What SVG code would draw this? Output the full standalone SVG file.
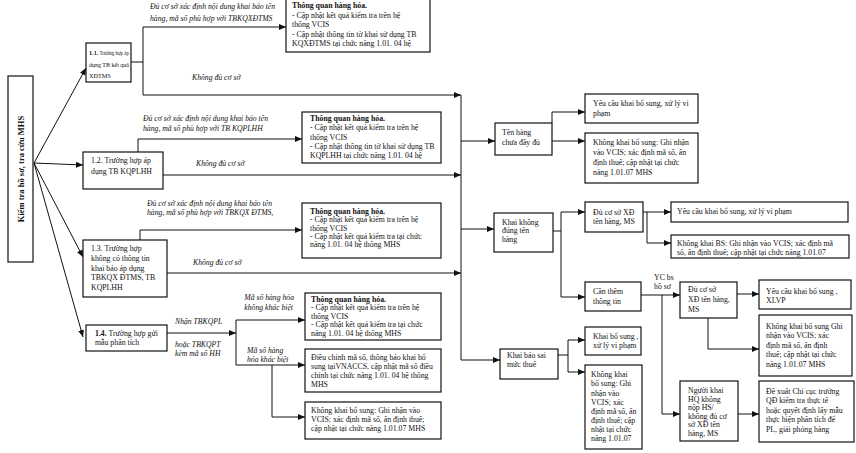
<svg xmlns="http://www.w3.org/2000/svg" width="856" height="453" viewBox="0 0 856 453">
<defs>
<marker id="ah" markerUnits="userSpaceOnUse" markerWidth="8" markerHeight="6" refX="7" refY="3" orient="auto"><path d="M0,0 L7,3 L0,6 z" fill="#111"/></marker>
</defs>
<style>
.b{fill:#fff;stroke:#111;stroke-width:1.2}
.t{font-family:"Liberation Serif","Times New Roman",serif;font-size:7.8px;fill:#111}
.i{font-family:"Liberation Serif","Times New Roman",serif;font-size:7.7px;font-style:italic;fill:#111}
.s{font-size:6.2px}
.h{font-weight:bold}
.c{fill:none;stroke:#111;stroke-width:1}
.a{marker-end:url(#ah)}
</style>
<rect width="856" height="453" fill="#fff"/>

<g id="connectors">
<path class="c a" d="M34,163 L86,68"/>
<path class="c a" d="M34,163 L83,165"/>
<path class="c a" d="M34,163 L83,257"/>
<path class="c a" d="M34,163 L83,337"/>
<path class="c" d="M131,62 H143 M143,27 V95"/>
<path class="c a" d="M143,27 H286"/>
<path class="c a" d="M143,95 H461"/>
<path class="c a" d="M138,152 V139 H302"/>
<path class="c a" d="M163,175 H461"/>
<path class="c a" d="M140,240 V230 H302"/>
<path class="c a" d="M167,273 H461"/>
<path class="c a" d="M167,333 H236"/>
<path class="c" d="M236,320 V365"/>
<path class="c a" d="M236,320 H305"/>
<path class="c a" d="M236,365 H305"/>
<path class="c a" d="M272,365 V417 H305"/>
<path class="c" d="M461,95 V360"/>
<path class="c a" d="M461,141 H495"/>
<path class="c a" d="M461,229 H494"/>
<path class="c a" d="M461,360 H500"/>
<path class="c a" d="M552,123 V112 H585"/>
<path class="c a" d="M552,141 H585"/>
<path class="c" d="M553,231 H561 M561,212 V297"/>
<path class="c a" d="M561,212 H585"/>
<path class="c a" d="M561,297 H585"/>
<path class="c a" d="M643,212 H671"/>
<path class="c a" d="M647,212 V243 H671"/>
<path class="c a" d="M641,295 H680"/>
<path class="c a" d="M662,295 V414 H680"/>
<path class="c a" d="M737,294 H759"/>
<path class="c a" d="M708,318 V349 H759"/>
<path class="c a" d="M738,414 H759"/>
<path class="c" d="M558,355 H568 M568,340 V372"/>
<path class="c a" d="M568,340 H585"/>
<path class="c a" d="M568,372 H585"/>
</g>

<g id="labels">
<text class="i"><tspan x="150" y="9">Đủ cơ sở xác định nội dung khai báo tên</tspan><tspan x="150" y="20.5">hàng, mã số phù hợp với TBKQXĐTMS</tspan></text>
<text class="i" x="192" y="80">Không đủ cơ sở</text>
<text class="i"><tspan x="143" y="121">Đủ cơ sở xác định nội dung khai báo tên</tspan><tspan x="143" y="130.5">hàng, mã số phù hợp với TB KQPLHH</tspan></text>
<text class="i" x="196" y="166">Không đủ cơ sở</text>
<text class="i"><tspan x="147" y="205.5">Đủ cơ sở xác định nội dung khai báo tên</tspan><tspan x="147" y="215">hàng, mã số phù hợp với TBKQX ĐTMS,</tspan></text>
<text class="i" x="193" y="265">Không đủ cơ sở</text>
<text class="i"><tspan x="175" y="323.5">Nhận TBKQPL</tspan><tspan x="175" y="347">hoặc  TBKQPT</tspan><tspan x="175" y="355.5">kèm mã số HH</tspan></text>
<text class="i" text-anchor="end"><tspan x="294" y="299.5">Mã số hàng hóa</tspan><tspan x="293" y="309.5">không khác biệt</tspan></text>
<text class="i"><tspan x="247" y="352.5">Mã  số  hàng</tspan><tspan x="247" y="361.5">hóa khác biệt</tspan></text>
<text class="t"><tspan x="654" y="280">YC bs</tspan><tspan x="654" y="289">hồ sơ</tspan></text>
</g>

<g id="n-root"><rect class="b" x="8" y="76" width="25" height="186"/><text class="t h" style="font-size:8.5px" text-anchor="middle" transform="translate(24,169) rotate(-90)">Kiểm tra hồ sơ, tra cứu MHS</text></g>

<g id="n-1-1"><rect class="b" x="86" y="43" width="45" height="39"/>
<text class="t s h" x="89" y="55">1.1.</text>
<text class="t s" x="99.5" y="55" textLength="29.5" lengthAdjust="spacingAndGlyphs">Trường hợp áp</text>
<text class="t s" x="89" y="66.5" textLength="40" lengthAdjust="spacingAndGlyphs">dụng TB kết quả</text>
<text class="t s" x="89" y="78">XĐTMS</text></g>

<g id="n-1-2"><rect class="b" x="83" y="152" width="80" height="37"/><text class="t"><tspan x="91" y="162.5">1.2. Trường hợp áp</tspan><tspan x="91" y="173.5">dụng  TB KQPLHH</tspan></text></g>

<g id="n-1-3"><rect class="b" x="83" y="240" width="84" height="57"/><text class="t"><tspan x="91" y="251">1.3. Trường hợp</tspan><tspan x="91" y="261">không có thông tin</tspan><tspan x="91" y="270.5">khai báo áp dụng</tspan><tspan x="91" y="280">TBKQX ĐTMS, TB</tspan><tspan x="91" y="289.5">KQPLHH</tspan></text></g>

<g id="n-1-4"><rect class="b" x="86" y="325" width="81" height="26"/><text class="t"><tspan x="95" y="336"><tspan class="h">1.4.</tspan> Trường hợp gửi</tspan><tspan x="95" y="345">mẫu phân tích</tspan></text></g>

<g id="n-tq1"><rect class="b" x="286" y="-2" width="144" height="54"/><text class="t"><tspan x="292" y="8" class="h">Thông quan hàng hóa.</tspan><tspan x="292" y="17.5">- Cập nhật kết quả kiểm tra trên hệ</tspan><tspan x="292" y="27">thống VCIS</tspan><tspan x="292" y="36.5">- Cập nhật thông tin tờ khai sử dụng TB</tspan><tspan x="292" y="46">KQXĐTMS tại chức năng 1.01. 04 hệ</tspan></text></g>

<g id="n-tq2"><rect class="b" x="302" y="112" width="139" height="51"/><text class="t"><tspan x="310" y="120.5" class="h">Thông quan hàng hóa.</tspan><tspan x="310" y="130">- Cập nhật kết quả kiểm tra trên hệ</tspan><tspan x="310" y="139.5">thống VCIS</tspan><tspan x="310" y="149">- Cập nhật thông tin tờ khai sử dụng TB</tspan><tspan x="310" y="158">KQPLHH tại chức năng 1.01. 04 hệ</tspan></text></g>

<g id="n-tq3"><rect class="b" x="302" y="203" width="139" height="55"/><text class="t"><tspan x="310" y="214" class="h">Thông quan hàng hóa.</tspan><tspan x="310" y="222.3">- Cập nhật kết quả kiểm tra trên hệ</tspan><tspan x="310" y="230.6">thống VCIS</tspan><tspan x="310" y="238.9">- Cập nhật kết quả kiểm tra tại chức</tspan><tspan x="310" y="247.2">năng 1.01. 04 hệ thống MHS</tspan></text></g>

<g id="n-tq4"><rect class="b" x="305" y="293" width="136" height="47"/><text class="t"><tspan x="311" y="301.5" class="h">Thông quan hàng hóa.</tspan><tspan x="311" y="310">- Cập nhật kết quả kiểm tra trên hệ</tspan><tspan x="311" y="318.5">thống VCIS</tspan><tspan x="311" y="327">-  Cập nhật kết quả kiểm tra tại chức</tspan><tspan x="311" y="335.5">năng 1.01. 04 hệ thống MHS</tspan></text></g>

<g id="n-dieuchinh"><rect class="b" x="305" y="349" width="136" height="43"/><text class="t"><tspan x="311" y="359.5">Điều chỉnh mã số, thông báo khai bổ</tspan><tspan x="311" y="368.5">sung tạiVNACCS, cập nhật mã số điều</tspan><tspan x="311" y="377.5">chỉnh tại chức năng 1.01. 04 hệ thống</tspan><tspan x="311" y="387">MHS</tspan></text></g>

<g id="n-kkbs1"><rect class="b" x="305" y="402" width="136" height="37"/><text class="t"><tspan x="311" y="412.5">Không khai bổ sung: Ghi nhận vào</tspan><tspan x="311" y="421.5">VCIS; xác định mã số, ấn định thuế;</tspan><tspan x="311" y="431">cập nhật tại chức năng 1.01.07 MHS</tspan></text></g>

<g id="n-tenhang"><rect class="b" x="495" y="123" width="57" height="32"/><text class="t"><tspan x="502" y="134.5">Tên hàng</tspan><tspan x="502" y="144.5">chưa đầy đủ</tspan></text></g>

<g id="n-khaikhong"><rect class="b" x="494" y="213" width="59" height="39"/><text class="t"><tspan x="502" y="224.5">Khai không</tspan><tspan x="502" y="233">đúng tên</tspan><tspan x="502" y="241.5">hàng</tspan></text></g>

<g id="n-khaibaosai"><rect class="b" x="500" y="349" width="58" height="30"/><text class="t"><tspan x="507" y="357.5">Khai báo sai</tspan><tspan x="507" y="366.5">mức thuế</tspan></text></g>

<g id="n-yc1"><rect class="b" x="585" y="94" width="113" height="29"/><text class="t"><tspan x="593" y="105.5">Yêu cầu khai bổ sung, xử lý vi</tspan><tspan x="593" y="115.5">phạm</tspan></text></g>

<g id="n-kkbs2"><rect class="b" x="585" y="133" width="113" height="50"/><text class="t"><tspan x="593" y="144.5">Không khai bổ sung: Ghi nhận</tspan><tspan x="593" y="154.5">vào VCIS; xác định mã số, ấn</tspan><tspan x="593" y="164.5">định thuế; cập nhật tại chức</tspan><tspan x="593" y="174.5">năng 1.01.07 MHS</tspan></text></g>

<g id="n-ducoso1"><rect class="b" x="585" y="202" width="58" height="30"/><text class="t"><tspan x="593" y="214.5">Đủ cơ sở  XĐ</tspan><tspan x="593" y="223.5">tên hàng, MS</tspan></text></g>

<g id="n-yc2"><rect class="b" x="671" y="202" width="177" height="20"/><text class="t" x="677" y="213.5">Yêu cầu khai bổ sung, xử lý vi phạm</text></g>

<g id="n-kbs"><rect class="b" x="671" y="235" width="178" height="23"/><text class="t"><tspan x="677" y="245.5">Không khai BS: Ghi nhận vào VCIS; xác định mã</tspan><tspan x="677" y="255">số, ấn định thuế; cập nhật tại chức năng 1.01.07</tspan></text></g>

<g id="n-canthem"><rect class="b" x="585" y="282" width="56" height="29"/><text class="t"><tspan x="593" y="294">Cần thêm</tspan><tspan x="593" y="303.5">thông tin</tspan></text></g>

<g id="n-ducoso2"><rect class="b" x="680" y="282" width="57" height="36"/><text class="t"><tspan x="688" y="292">Đủ cơ sở</tspan><tspan x="688" y="302">XĐ tên hàng,</tspan><tspan x="688" y="312">MS</tspan></text></g>

<g id="n-yc3"><rect class="b" x="759" y="280" width="92" height="29"/><text class="t"><tspan x="766" y="294">Yêu cầu khai bổ sung ,</tspan><tspan x="766" y="302.5">XLVP</tspan></text></g>

<g id="n-kkbs3"><rect class="b" x="759" y="315" width="93" height="61"/><text class="t"><tspan x="766" y="328.5">Không khai bổ sung Ghi</tspan><tspan x="766" y="337.5">nhận vào VCIS; xác</tspan><tspan x="766" y="347.5">định mã số, ấn định</tspan><tspan x="766" y="356.5">thuế; cập nhật tại chức</tspan><tspan x="766" y="366.5">năng 1.01.07 MHS</tspan></text></g>

<g id="n-nguoikhai"><rect class="b" x="680" y="381" width="58" height="60"/><text class="t"><tspan x="688" y="393">Người khai</tspan><tspan x="688" y="401.5">HQ không</tspan><tspan x="688" y="410">nộp HS/</tspan><tspan x="688" y="418.5">không đủ cơ</tspan><tspan x="688" y="427">sở XĐ tên</tspan><tspan x="688" y="435.5">hàng, MS</tspan></text></g>

<g id="n-dexuat"><rect class="b" x="759" y="381" width="95" height="61"/><text class="t"><tspan x="766" y="393.5">Đề xuất Chi cục trưởng</tspan><tspan x="766" y="403">QĐ kiểm tra thực tế</tspan><tspan x="766" y="412.5">hoặc quyết định lấy mẫu</tspan><tspan x="766" y="422">thực hiện phân tích để</tspan><tspan x="766" y="431.5">PL, giải phóng hàng</tspan></text></g>

<g id="n-kbs-vp"><rect class="b" x="585" y="327" width="56" height="28"/><text class="t"><tspan x="593" y="338.5">Khai bổ sung ,</tspan><tspan x="593" y="347.5">xử lý vi phạm</tspan></text></g>

<g id="n-kkbs4"><rect class="b" x="585" y="365" width="57" height="84"/><text class="t"><tspan x="591" y="376.5">Không khai</tspan><tspan x="591" y="386">bổ sung: Ghi</tspan><tspan x="591" y="395.5">nhận vào</tspan><tspan x="591" y="404.5">VCIS; xác</tspan><tspan x="591" y="413.5">định mã số, ấn</tspan><tspan x="591" y="422.5">định thuế; cập</tspan><tspan x="591" y="432">nhật tại chức</tspan><tspan x="591" y="441">năng 1.01.07</tspan></text></g>
</svg>
